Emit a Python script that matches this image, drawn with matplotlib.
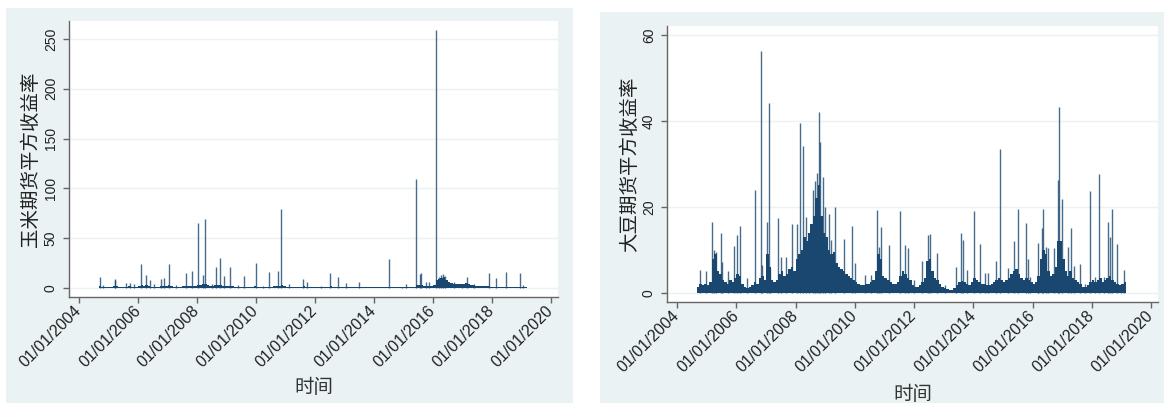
import matplotlib
matplotlib.use("Agg")
import matplotlib.pyplot as plt
from matplotlib.patches import Rectangle
import pandas as pd

plt.rcParams['font.family'] = ['Liberation Sans', 'Noto Sans CJK SC', 'DejaVu Sans']

# --- corn (玉米) : large single-day spikes ---
corn_spike_dates = ['2004-09-20', '2004-10-20', '2005-03-14', '2005-03-22', '2005-08-08',
                    '2005-09-20', '2005-11-06', '2006-02-06', '2006-04-12', '2006-05-22',
                    '2006-07-20', '2006-10-12', '2006-11-22', '2007-01-15', '2007-04-20',
                    '2007-08-18', '2007-10-27', '2008-01-12', '2008-03-14', '2008-04-08',
                    '2008-07-01', '2008-08-18', '2008-10-05', '2008-11-25', '2009-02-10',
                    '2009-05-27', '2009-08-08', '2009-12-25', '2010-04-02', '2010-06-14',
                    '2010-09-24', '2010-11-06', '2011-02-06', '2011-08-01', '2011-09-20',
                    '2012-03-14', '2012-07-01', '2012-10-08', '2013-01-22', '2013-06-25',
                    '2014-07-01', '2014-12-15', '2015-02-06', '2015-06-06', '2015-07-20',
                    '2015-08-08', '2015-10-05', '2015-11-06', '2016-02-03', '2016-03-14',
                    '2016-04-12', '2016-05-08', '2016-06-03', '2016-09-12', '2016-12-25',
                    '2017-02-25', '2017-05-20', '2017-11-20', '2018-02-25', '2018-06-20',
                    '2018-12-15', '2019-01-20']
corn_spike_vals = [11.3, 3.0, 9.0, 8.0, 5.0,
                   5.0, 4.5, 24.0, 13.0, 8.0,
                   4.0, 9.3, 10.3, 24.0, 3.5,
                   15.3, 17.0, 65.0, 13.0, 69.0,
                   4.0, 21.0, 30.0, 12.0, 21.0,
                   3.0, 12.3, 24.7, 2.5, 16.0,
                   17.3, 79.0, 4.0, 9.3, 6.0,
                   2.0, 15.3, 10.7, 5.3, 5.7,
                   29.3, 1.5, 4.0, 109.0, 14.0,
                   15.3, 6.0, 6.0, 259.0, 11.0,
                   13.0, 14.0, 12.0, 6.0, 4.0,
                   10.7, 4.5, 15.3, 9.7, 16.0,
                   14.7, 3.0]
# monthly level of the dense low part, Sep 2004 - Feb 2019
corn_base = [2.0, 1.5, 1.2, 1.2,
             1.2, 1.2, 2.5, 2.0, 1.2, 1.2, 1.2, 1.5, 1.8, 1.5, 1.2, 1.5,
             2.0, 3.0, 2.0, 3.5, 2.0, 1.5, 1.5, 1.2, 1.5, 2.0, 2.5, 2.5,
             3.0, 2.0, 1.5, 1.2, 1.5, 1.5, 2.0, 2.5, 2.0, 2.5, 2.0, 2.5,
             3.0, 3.0, 4.0, 4.5, 3.0, 2.5, 2.5, 3.0, 3.5, 3.0, 2.5, 2.0,
             2.0, 2.5, 2.0, 1.5, 1.5, 1.2, 1.2, 1.5, 1.2, 1.2, 1.5, 2.0,
             1.5, 1.2, 1.2, 1.2, 1.2, 1.5, 1.5, 2.0, 2.5, 2.5, 3.0, 2.0,
             1.5, 1.5, 1.2, 1.2, 1.2, 1.2, 1.5, 2.0, 1.5, 1.2, 1.2, 1.2,
             1.2, 1.2, 1.2, 1.2, 1.2, 1.5, 2.0, 1.5, 1.2, 1.2, 1.2, 1.2,
             1.1, 1.0, 1.0, 1.0, 1.1, 1.1, 1.0, 1.0, 1.0, 1.0, 1.0, 1.0,
             1.0, 1.0, 1.0, 1.0, 1.0, 1.0, 1.0, 1.0, 1.0, 1.0, 1.0, 1.0,
             1.1, 1.2, 1.2, 1.2, 1.5, 3.0, 3.5, 3.0, 2.5, 2.0, 2.0, 2.5,
             3.0, 8.0, 9.0, 10.0, 11.0, 8.0, 6.0, 5.0, 4.5, 4.0, 4.5, 4.0,
             4.0, 5.0, 4.5, 3.5, 3.0, 2.5, 2.5, 2.0, 2.0, 1.8, 1.8, 1.5,
             1.5, 1.5, 1.5, 1.5, 1.5, 1.5, 1.5, 1.5, 1.5, 1.5, 1.5, 1.5,
             1.5, 1.5]

# --- soybean (大豆) ---
soy_spike_dates = ['2004-10-05', '2004-12-15', '2005-03-08', '2005-04-02', '2005-04-20',
                   '2005-06-28', '2005-07-12', '2005-09-20', '2005-11-28', '2006-01-08',
                   '2006-02-10', '2006-05-08', '2006-08-15', '2006-10-30', '2006-11-18',
                   '2007-01-18', '2007-02-02', '2007-02-15', '2007-05-30', '2007-07-01',
                   '2007-09-05', '2007-11-18', '2008-01-22', '2008-02-20', '2008-04-01',
                   '2008-05-10', '2008-06-10', '2008-08-03', '2008-08-25', '2008-09-17',
                   '2008-10-16', '2008-10-27', '2008-12-02', '2009-01-02', '2009-02-18',
                   '2009-03-18', '2009-04-27', '2009-08-18', '2009-11-28', '2010-01-05',
                   '2010-05-01', '2010-07-20', '2010-10-05', '2010-10-20', '2010-11-14',
                   '2011-02-25', '2011-07-12', '2011-09-16', '2011-10-15', '2011-12-28',
                   '2012-04-08', '2012-06-20', '2012-07-12', '2012-10-05', '2013-01-12',
                   '2013-06-03', '2013-07-28', '2013-08-25', '2013-10-15', '2014-01-05',
                   '2014-03-22', '2014-05-27', '2014-07-05', '2014-10-08', '2014-11-25',
                   '2015-03-05', '2015-05-15', '2015-07-12', '2015-10-12', '2015-11-06',
                   '2015-12-05', '2016-03-08', '2016-03-14', '2016-04-24', '2016-05-15',
                   '2016-06-14', '2016-07-16', '2016-09-20', '2016-11-10', '2016-11-28',
                   '2017-01-02', '2017-03-12', '2017-04-20', '2017-05-30', '2017-08-08',
                   '2017-10-12', '2017-12-15', '2018-02-06', '2018-04-05', '2018-06-05',
                   '2018-07-24', '2018-08-15', '2018-09-12', '2018-11-06', '2019-01-01',
                   '2019-02-06']
soy_spike_vals = [5.3, 5.2, 16.4, 10.0, 9.5,
                  13.9, 7.3, 5.0, 11.0, 13.5,
                  15.6, 3.5, 24.0, 56.4, 6.5,
                  16.6, 44.1, 5.9, 17.5, 8.4,
                  8.4, 16.0, 16.0, 39.5, 34.2,
                  17.6, 12.0, 24.0, 26.0, 28.0,
                  42.2, 35.2, 27.0, 20.0, 18.3,
                  12.3, 20.0, 12.5, 15.6, 7.0,
                  4.2, 4.2, 19.3, 10.8, 15.4,
                  11.1, 19.0, 11.2, 10.4, 3.0,
                  7.5, 13.5, 13.7, 9.2, 1.8,
                  6.1, 13.9, 12.3, 5.3, 19.1,
                  11.4, 4.6, 4.6, 7.5, 33.6,
                  5.7, 12.1, 19.5, 16.2, 8.0,
                  3.8, 3.0, 11.7, 15.0, 19.5,
                  10.8, 10.5, 10.4, 26.3, 43.3,
                  21.8, 10.8, 15.0, 6.2, 6.7,
                  2.2, 23.8, 3.8, 27.6, 3.8,
                  16.6, 13.0, 19.6, 11.4, 2.2,
                  5.3]
soy_base = [1.5, 2.0, 1.8, 2.2,
            1.8, 2.5, 8.0, 9.0, 5.0, 4.5, 3.0, 2.5, 2.2, 3.0, 2.5, 3.5,
            4.5, 4.0, 2.0, 1.5, 1.2, 1.5, 1.8, 2.5, 2.0, 3.5, 4.0, 3.0,
            9.0, 6.0, 3.0, 2.5, 3.0, 4.5, 5.0, 4.0, 4.5, 5.5, 6.0, 5.0,
            8.0, 9.0, 10.0, 13.0, 12.0, 14.0, 16.0, 18.0, 22.0, 25.0, 18.0, 14.0,
            13.0, 10.0, 9.0, 9.5, 7.0, 6.0, 5.5, 5.0, 4.5, 4.0, 3.5, 3.0,
            2.5, 2.0, 1.8, 1.8, 2.0, 2.2, 2.5, 3.0, 5.0, 9.0, 8.0, 4.0,
            3.5, 3.0, 2.5, 2.0, 2.0, 2.5, 4.0, 5.0, 4.5, 3.5, 3.0, 1.8,
            1.5, 1.5, 1.8, 2.5, 3.5, 7.5, 8.0, 5.0, 3.5, 3.0, 2.0, 1.5,
            1.2, 1.0, 0.8, 0.8, 1.2, 1.8, 2.5, 2.8, 2.5, 2.0, 1.8, 2.5,
            3.5, 3.0, 2.5, 2.2, 2.0, 1.8, 1.8, 2.0, 2.5, 3.0, 3.5, 3.0,
            2.5, 3.0, 3.5, 4.5, 5.0, 5.5, 4.5, 3.5, 3.0, 3.5, 3.0, 2.5,
            2.0, 2.5, 4.0, 8.0, 10.0, 9.0, 5.0, 4.0, 4.5, 6.0, 12.0, 12.0,
            8.0, 5.0, 4.0, 5.0, 3.5, 3.0, 2.5, 2.0, 1.5, 1.5, 1.8, 2.5,
            3.0, 2.5, 3.0, 3.5, 2.5, 3.0, 3.5, 4.0, 3.0, 2.5, 2.0, 1.8,
            2.0, 2.5]

tick_years = [2004, 2006, 2008, 2010, 2012, 2014, 2016, 2018, 2020]

NAVY = '#1a476f'
BG = '#eaf2f3'
W, H = 1164, 403

fig = plt.figure(figsize=(W / 100, H / 100), dpi=100)
fig.patch.set_facecolor('white')
# stata graph regions, drawn behind the axes
fig.patches.append(Rectangle((6 / W, 0), 567 / W, (H - 8) / H, transform=fig.transFigure,
                             facecolor=BG, edgecolor='none', zorder=-5))
fig.patches.append(Rectangle((600 / W, 0), 564 / W, (H - 12) / H, transform=fig.transFigure,
                             facecolor=BG, edgecolor='none', zorder=-5))


def panel(rect, spike_d, spike_v, base, yticks, ylim, ylabel, ylab_x, xlab_y):
    ax = fig.add_axes(rect)
    ax.set_zorder(2)
    ax.set_facecolor('white')
    months = pd.date_range('2004-09-01', periods=len(base), freq='MS')
    ax.bar(months, base, width=31, align='edge', color=NAVY, linewidth=0, zorder=2)
    ax.vlines(pd.to_datetime(spike_d), 0, spike_v, color=NAVY, lw=1.0, alpha=0.8, zorder=3)
    ax.set_ylim(*ylim)
    ax.set_xlim(pd.Timestamp('2003-08-28'), pd.Timestamp('2020-03-28'))
    ax.set_yticks(yticks)
    ax.set_yticklabels([str(v) for v in yticks], rotation=90, va='center', fontsize=10)
    ticks = [pd.Timestamp(f'{y}-01-01') for y in tick_years]
    ax.set_xticks(ticks)
    ax.set_xticklabels([t.strftime('%d/%m/%Y') for t in ticks], rotation=45, ha='right',
                       va='center', rotation_mode='anchor', fontsize=11.5)
    ax.grid(axis='y', color=BG, lw=1.0, zorder=1)
    ax.set_axisbelow(True)
    for s in ['top', 'right']:
        ax.spines[s].set_visible(False)
    for s in ['left', 'bottom']:
        ax.spines[s].set_color('#666666')
        ax.spines[s].set_linewidth(1.0)
    ax.tick_params(axis='y', length=4, width=1, color='#666666', pad=4, labelcolor='#222222')
    ax.tick_params(axis='x', length=4, width=1, color='#666666', pad=4, labelcolor='#222222')
    ax.set_ylabel(ylabel, fontsize=14, color='#222222')
    ax.yaxis.set_label_coords(ylab_x, 0.5)
    ax.set_xlabel('时间', fontsize=14, color='#333333')
    ax.xaxis.set_label_coords(0.5, xlab_y)
    ax.xaxis.label.set_va('center')
    ax.yaxis.label.set_va('center')
    return ax


panel([69 / W, (H - 297) / H, 489 / W, 276 / H], corn_spike_dates, corn_spike_vals, corn_base,
      [0, 50, 100, 150, 200, 250], (-9, 268), '玉米期货平方收益率', -0.078, -91 / 276)
panel([667 / W, (H - 302) / H, 491 / W, 276 / H], soy_spike_dates, soy_spike_vals, soy_base,
      [0, 20, 40, 60], (-2.1, 62.1), '大豆期货平方收益率', -0.075, -93 / 276)

fig.savefig('out.png', dpi=100)
